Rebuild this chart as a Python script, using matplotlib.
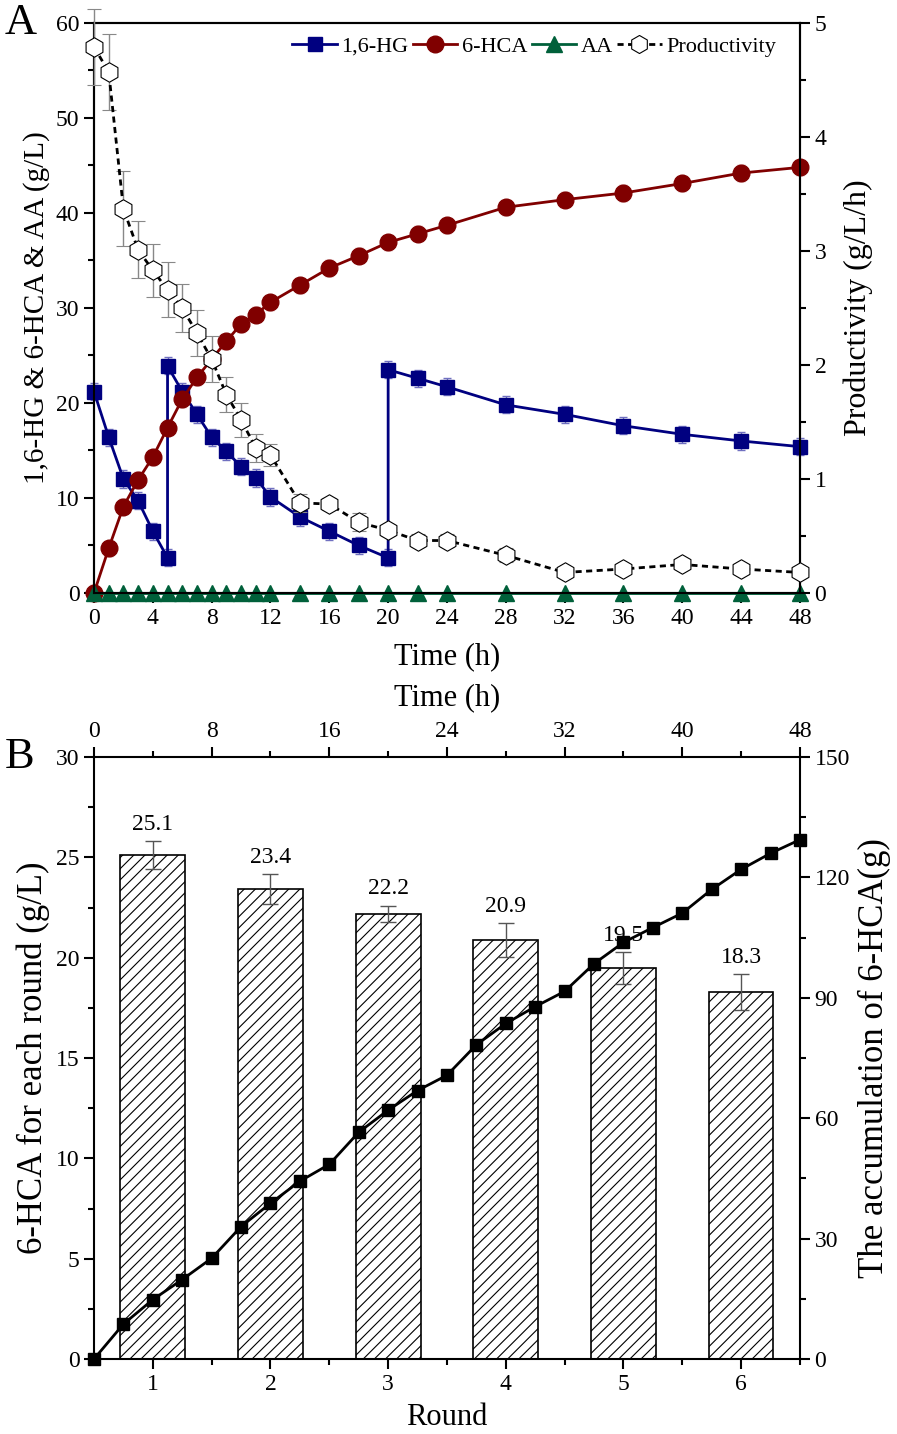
import numpy as np
import matplotlib
matplotlib.use('Agg')
import matplotlib.pyplot as plt
from matplotlib.ticker import MultipleLocator
from matplotlib.lines import Line2D

plt.rcParams['font.family'] = ['Liberation Serif', 'DejaVu Serif']
plt.rcParams['hatch.linewidth'] = 0.8
plt.rcParams['hatch.color'] = '#444444'

# ---- panel A data ----
hg_time = [0, 1, 2, 3, 4, 5, 5, 6, 7, 8, 9, 10, 11, 12, 14, 16, 18, 20, 20, 22, 24, 28, 32, 36, 40, 44, 48]
hg = [21.2, 16.4, 12.0, 9.7, 6.5, 3.7, 23.9, 21.2, 18.8, 16.4, 14.9, 13.3, 12.1, 10.1, 8.0, 6.5, 5.0, 3.7,
      23.5, 22.6, 21.7, 19.8, 18.8, 17.6, 16.7, 16.0, 15.4]
hg_err = [0.9] * len(hg)

time = [0, 1, 2, 3, 4, 5, 6, 7, 8, 9, 10, 11, 12, 14, 16, 18, 20, 22, 24, 28, 32, 36, 40, 44, 48]
hca = [0, 4.7, 9.1, 11.9, 14.3, 17.4, 20.4, 22.7, 24.6, 26.5, 28.3, 29.3, 30.6, 32.4, 34.2, 35.5, 36.9,
       37.8, 38.7, 40.6, 41.4, 42.1, 43.1, 44.2, 44.8]
hca_err = [0.8] * len(hca)
aa = [0] * len(time)
prod = [4.79, 4.57, 3.37, 3.01, 2.83, 2.66, 2.50, 2.28, 2.05, 1.74, 1.52, 1.27, 1.21, 0.79, 0.78, 0.62,
        0.55, 0.46, 0.46, 0.33, 0.18, 0.21, 0.25, 0.21, 0.18]
prod_err = [0.33, 0.33, 0.33, 0.25, 0.23, 0.24, 0.21, 0.2, 0.2, 0.15, 0.15, 0.12, 0.1, 0.08, 0.05, 0.08,
            0.05, 0.06, 0.06, 0.06, 0.03, 0.03, 0.04, 0.04, 0.03]

# ---- panel B data ----
rounds = [1, 2, 3, 4, 5, 6]
round_hca = [25.1, 23.4, 22.2, 20.9, 19.5, 18.3]
round_err = [0.7, 0.75, 0.4, 0.85, 0.8, 0.9]
cum_time = [0, 2, 4, 6, 8, 10, 12, 14, 16, 18, 20, 22, 24, 26, 28, 30, 32, 34, 36, 38, 40, 42, 44, 46, 48]
cum_hca = [0, 8.7, 14.8, 19.8, 25.1, 33.0, 38.8, 44.3, 48.5, 56.5, 62.0, 66.9, 70.7, 78.3, 83.6, 87.8,
           91.6, 98.5, 103.8, 107.5, 111.1, 117.0, 122.0, 126.0, 129.4]

navy = '#000080'
dred = '#800000'
dgreen = '#00603a'
pdash = (0, (2.2, 1.6))

TICK = 17
LAB = 22

fig = plt.figure(figsize=(8.97, 14.34), dpi=100)


def style_ticks(ax, **kw):
    ax.tick_params(which='major', direction='out', length=7, width=1.5, labelsize=TICK, **kw)
    ax.tick_params(which='minor', direction='out', length=4, width=1.5, **kw)


# ================= panel A =================
axA = fig.add_axes([0.1048, 0.5865, 0.787, 0.3975])
axP = axA.twinx()

axA.errorbar(hg_time, hg, yerr=hg_err, color=navy, marker='s', ms=10, lw=2, capsize=3,
             ecolor='#7070c0', elinewidth=1, clip_on=False, zorder=4)
axA.errorbar(time, hca, yerr=hca_err, color=dred, marker='o', ms=12, lw=2, capsize=3,
             ecolor='#c07070', elinewidth=1, clip_on=False, zorder=4)
axA.plot(time, aa, color=dgreen, marker='^', ms=12, lw=2, clip_on=False, zorder=5)
axP.errorbar(time, prod, yerr=prod_err, color='black', ls=pdash, lw=2, marker='h',
             ms=14, mfc='white', mec='black', mew=0.8, ecolor='#888888', elinewidth=1, capsize=5,
             clip_on=False, zorder=3)

axA.set_xlim(0, 48)
axA.set_ylim(0, 60)
axP.set_ylim(0, 5)
axA.xaxis.set_major_locator(MultipleLocator(4))
axA.yaxis.set_major_locator(MultipleLocator(10))
axA.yaxis.set_minor_locator(MultipleLocator(5))
axP.yaxis.set_major_locator(MultipleLocator(1))
axP.yaxis.set_minor_locator(MultipleLocator(0.5))
style_ticks(axA)
style_ticks(axP)
for ax in (axA, axP):
    for s in ax.spines.values():
        s.set_linewidth(1.5)
axA.set_xlabel('Time (h)', fontsize=LAB, labelpad=10)
axA.set_ylabel('1,6-HG & 6-HCA & AA (g/L)', fontsize=21, labelpad=4)
axP.set_ylabel('Productivity (g/L/h)', fontsize=23, labelpad=12)

handles = [
    Line2D([], [], color=navy, marker='s', ms=10, lw=2),
    Line2D([], [], color=dred, marker='o', ms=12, lw=2),
    Line2D([], [], color=dgreen, marker='^', ms=12, lw=2),
    Line2D([], [], color='black', ls=pdash, lw=2, marker='h', ms=13, mfc='white', mec='black', mew=0.8),
]
axA.legend(handles, ['1,6-HG', '6-HCA', 'AA', 'Productivity'], loc='upper right',
           bbox_to_anchor=(0.985, 1.0), ncol=4, frameon=False, fontsize=16, handlelength=2.0,
           handletextpad=0.2, columnspacing=0.2, borderaxespad=0.2)

fig.text(0.005, 0.998, 'A', fontsize=32, va='top', ha='left')

# ================= panel B =================
posB = [0.1048, 0.0523, 0.787, 0.4198]
axB = fig.add_axes(posB)
axB.bar(rounds, round_hca, width=0.55, facecolor='white', edgecolor='black', lw=1.2, hatch='///',
        zorder=2)
axB.errorbar(rounds, round_hca, yerr=round_err, fmt='none', ecolor='#555555', elinewidth=1,
             capsize=6, zorder=3)
for r, v, e in zip(rounds, round_hca, round_err):
    axB.text(r, v + e + 0.3, f'{v:.1f}', ha='center', va='bottom', fontsize=17, zorder=3)
axB.set_xlim(0.5, 6.5)
axB.set_ylim(0, 30)
axB.xaxis.set_major_locator(MultipleLocator(1))
axB.xaxis.set_minor_locator(MultipleLocator(0.5))
axB.yaxis.set_major_locator(MultipleLocator(5))
axB.yaxis.set_minor_locator(MultipleLocator(2.5))
style_ticks(axB)
axB.set_xlabel('Round', fontsize=LAB, labelpad=6)
axB.set_ylabel('6-HCA for each round (g/L)', fontsize=25, labelpad=4)
for s in axB.spines.values():
    s.set_linewidth(1.5)

# cumulative line: top time axis and right axis
axC = fig.add_axes(posB, frameon=False)
axC.plot(cum_time, cum_hca, color='black', marker='s', ms=9, lw=2, clip_on=False, zorder=5)
axC.set_xlim(0, 48)
axC.set_ylim(0, 150)
axC.xaxis.tick_top()
axC.xaxis.set_label_position('top')
axC.yaxis.tick_right()
axC.yaxis.set_label_position('right')
axC.xaxis.set_major_locator(MultipleLocator(8))
axC.xaxis.set_minor_locator(MultipleLocator(4))
axC.yaxis.set_major_locator(MultipleLocator(30))
axC.yaxis.set_minor_locator(MultipleLocator(15))
style_ticks(axC)
axC.set_xlabel('Time (h)', fontsize=LAB, labelpad=12)
axC.set_ylabel('The accumulation of 6-HCA(g)', fontsize=25, labelpad=6)
axC.patch.set_visible(False)

fig.text(0.005, 0.472, 'B', fontsize=32, va='center', ha='left')

fig.savefig('out.png', dpi=100)
